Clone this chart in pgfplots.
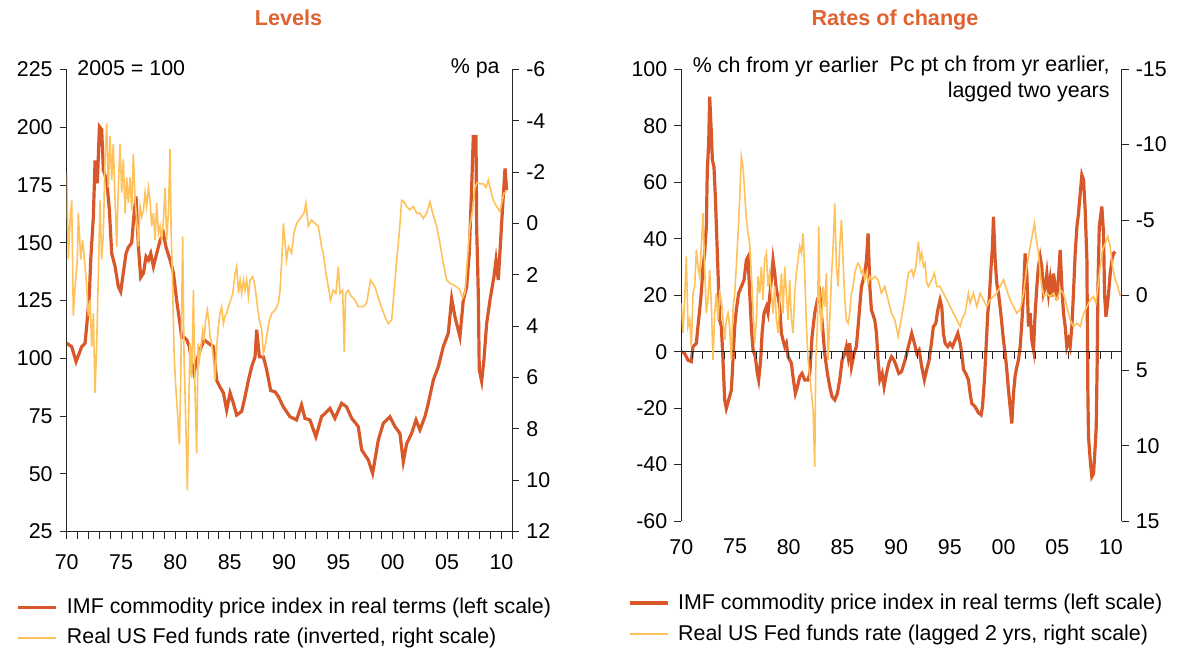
\documentclass[border=0pt]{standalone}
\usepackage{fontspec}
\setmainfont{Liberation Sans}
\usepackage{pgfplots}
\usepackage{pgfplotstable}
\pgfplotsset{compat=1.18}
\definecolor{cdark}{RGB}{216,88,42}
\definecolor{clight}{RGB}{255,193,90}
\definecolor{ctitle}{RGB}{224,98,48}

% Levels: IMF commodity price index in real terms (2005=100)
\pgfplotstableread{
x y
1970.00 106.5
1970.46 105
1970.86 98.5
1971.38 105
1971.69 106.5
1971.84 114
1972.09 128
1972.21 142.5
1972.45 161
1972.61 185.6
1972.82 175.7
1973.01 200.3
1973.22 199
1973.37 181.5
1973.68 177
1973.93 164
1974.14 145.4
1974.45 139.7
1974.75 131
1974.97 128.8
1975.21 137
1975.46 145.4
1975.67 148
1975.98 150
1976.20 162.7
1976.38 170
1976.60 148
1976.81 135
1977.06 136.8
1977.30 144
1977.52 142.5
1977.73 145.4
1977.98 139.7
1978.28 145.4
1978.59 151
1978.90 154
1979.14 148
1979.51 142.5
1979.82 137
1980.12 125
1980.37 116.6
1980.58 109
1980.80 109
1981.04 108
1981.29 105
1981.50 98
1981.72 93.5
1981.96 99
1982.27 103.5
1982.64 108
1983.04 106.5
1983.50 105
1983.80 90.5
1984.05 88
1984.42 85
1984.72 77.6
1985.03 85
1985.34 80.5
1985.64 75.4
1986.10 77
1986.41 83.4
1986.72 90.5
1987.02 96.3
1987.33 100.6
1987.48 112.3
1987.73 100.6
1988.10 100.6
1988.40 95
1988.77 86
1989.17 85.5
1989.48 83.4
1989.93 79
1990.54 74.7
1991.15 73.3
1991.61 79.8
1991.92 74
1992.38 73.3
1992.93 66
1993.45 74.7
1994.22 78.3
1994.68 74
1995.29 80.5
1995.75 79
1996.22 74
1996.83 70.4
1997.14 60.3
1997.75 56
1998.15 50.2
1998.67 64.6
1999.13 71.8
1999.74 74.7
2000.20 70.4
2000.66 67.5
2000.97 55.2
2001.28 63
2001.74 67.5
2002.14 73.3
2002.50 69
2002.96 74.7
2003.27 80.5
2003.73 90.5
2004.19 96.3
2004.65 105
2005.11 110.8
2005.42 125.9
2005.72 118
2006.18 109.3
2006.49 125.1
2006.80 130.9
2007.04 145.4
2007.26 174
2007.41 196
2007.66 196
2007.72 157
2007.87 128
2007.96 95
2008.18 90
2008.39 99.4
2008.64 115
2008.94 125
2009.31 135.3
2009.50 142.5
2009.71 133.9
2009.93 151.2
2010.11 165.6
2010.33 182.2
2010.48 172.8
}\levimf

% Levels: real US Fed funds rate (% pa, inverted scale)
\pgfplotstableread{
x y
1970.00 -1.95
1970.15 1.4
1970.31 -0.14
1970.46 -0.9
1970.61 3.6
1970.77 2.46
1970.98 1.4
1971.07 -0.4
1971.29 1.4
1971.47 0.64
1971.69 1.68
1971.84 2.46
1971.99 3.6
1972.15 3.0
1972.30 4.8
1972.45 3.5
1972.61 6.6
1972.76 4.67
1972.91 2.07
1973.07 -0.9
1973.22 1.4
1973.37 0.4
1973.53 -2.5
1973.68 -3.9
1973.83 -1.4
1973.99 -3.4
1974.14 -1.7
1974.29 -3.1
1974.45 -0.9
1974.60 0.9
1974.75 -1.4
1974.91 -3.1
1975.06 -1.2
1975.21 -2.5
1975.37 -0.4
1975.52 -1.8
1975.67 -0.8
1975.83 -1.8
1975.98 -0.5
1976.13 -2.7
1976.29 -0.9
1976.44 -0.14
1976.60 0.9
1976.75 -0.66
1976.90 -0.27
1977.06 -0.5
1977.21 -1.2
1977.36 -0.66
1977.52 -1.4
1977.67 -0.9
1977.82 0.1
1977.98 -0.4
1978.13 0.64
1978.28 -0.8
1978.44 0.4
1978.59 0.1
1978.74 0.64
1978.90 -0.14
1979.05 -1.4
1979.20 0.64
1979.36 -0.4
1979.51 -2.9
1979.60 0.1
1979.75 2.46
1979.88 5.06
1980.00 6.1
1980.18 7.3
1980.37 8.6
1980.49 6.1
1980.67 0.5
1980.80 5.3
1980.92 7.1
1981.10 10.4
1981.23 7.3
1981.35 4.67
1981.50 6.0
1981.66 2.6
1981.81 6.6
1981.96 8.96
1982.09 4.67
1982.21 5.3
1982.33 4.9
1982.52 4.15
1982.64 4.5
1982.79 3.76
1982.94 3.37
1983.07 3.76
1983.19 4.4
1983.34 4.67
1983.50 5.3
1983.65 6.1
1983.80 4.8
1983.96 4.0
1984.11 3.5
1984.26 3.24
1984.42 3.9
1984.57 3.6
1984.72 3.5
1984.88 3.24
1985.09 2.98
1985.28 2.72
1985.49 1.94
1985.64 1.68
1985.80 2.72
1985.95 2.2
1986.10 2.72
1986.26 2.2
1986.41 2.6
1986.56 2.2
1986.72 2.85
1986.87 2.2
1987.12 2.07
1987.33 2.46
1987.55 3.24
1987.73 3.76
1987.94 4.15
1988.10 5.06
1988.25 4.8
1988.40 4.4
1988.65 3.76
1988.87 3.5
1989.17 3.37
1989.48 3.1
1989.63 2.6
1989.79 1.4
1989.94 0.0
1990.09 0.77
1990.23 1.42
1990.40 0.9
1990.69 1.16
1990.91 0.38
1991.15 0.0
1991.40 -0.14
1991.61 -0.27
1991.83 -0.4
1992.01 -0.8
1992.23 0.1
1992.53 -0.14
1992.84 0.0
1993.15 0.1
1993.45 0.9
1993.61 1.16
1993.85 1.94
1994.07 2.46
1994.28 2.98
1994.53 2.6
1994.77 2.72
1994.99 1.68
1995.14 2.72
1995.39 2.6
1995.54 5.0
1995.66 2.72
1995.91 2.6
1996.21 2.85
1996.52 2.98
1996.83 3.24
1997.29 3.24
1997.60 3.1
1997.96 2.2
1998.36 2.46
1998.82 3.1
1999.28 3.63
1999.59 3.9
1999.90 3.76
2000.11 2.72
2000.36 1.42
2000.60 0.38
2000.82 -0.9
2001.03 -0.85
2001.28 -0.66
2001.58 -0.53
2001.89 -0.66
2002.20 -0.4
2002.50 -0.4
2002.81 -0.2
2003.12 -0.4
2003.42 -0.85
2003.67 -0.4
2004.04 0.1
2004.34 0.77
2004.65 1.55
2004.96 2.2
2005.26 2.33
2005.57 2.4
2005.88 2.46
2006.18 2.6
2006.43 2.9
2006.64 2.72
2006.86 1.42
2007.10 0.1
2007.35 -0.53
2007.56 -1.4
2007.78 -1.6
2008.02 -1.55
2008.33 -1.55
2008.58 -1.4
2008.79 -1.7
2009.01 -1.3
2009.25 -0.9
2009.56 -0.66
2009.87 -0.46
2010.02 -0.8
2010.23 -1.18
2010.48 -1.25
}\levfed

% Rates of change: IMF commodity index, % ch from yr earlier
\pgfplotstableread{
x y
1970.00 0
1970.31 -0.6
1970.62 -3
1970.93 -3.5
1971.09 1.8
1971.40 3
1971.55 8.9
1971.71 14.8
1971.86 20.7
1972.02 30
1972.17 34.8
1972.33 44.3
1972.42 64.3
1972.55 73.8
1972.64 90.3
1972.80 77.3
1972.89 67.9
1973.04 65.5
1973.17 54.9
1973.29 41.9
1973.42 27.7
1973.57 11.2
1973.73 8.9
1973.88 -3
1974.04 -17.1
1974.19 -20.1
1974.41 -17.1
1974.66 -13.6
1974.81 -3
1974.97 8.9
1975.12 14.8
1975.34 20.7
1975.59 23
1975.84 25.4
1976.06 32.5
1976.21 33.6
1976.37 20.7
1976.52 8.9
1976.68 0.6
1976.89 -1.8
1977.08 -7.7
1977.20 -10
1977.39 -3
1977.52 6.5
1977.70 13.6
1977.92 15.9
1978.07 13.6
1978.32 23
1978.54 32.5
1978.70 27.7
1978.85 21.8
1979.01 19.5
1979.16 15.9
1979.32 6.5
1979.47 4.1
1979.63 1.8
1979.78 3
1979.94 -1.8
1980.25 -4.1
1980.40 -8.9
1980.62 -14.8
1980.81 -12.4
1981.02 -8.9
1981.24 -7.7
1981.49 -10
1981.80 -10
1981.96 -7.7
1982.17 5.3
1982.42 13.6
1982.67 18.3
1982.89 20.7
1983.04 13.6
1983.20 6.5
1983.35 -0.6
1983.60 -7.7
1983.82 -12.4
1984.04 -16
1984.29 -17.1
1984.53 -14.8
1984.75 -10
1984.97 -3
1985.22 -0.6
1985.37 1.8
1985.53 -1.8
1985.68 3
1985.84 -5.3
1986.09 -0.6
1986.30 1.8
1986.46 8.9
1986.61 15.9
1986.77 23
1986.93 25.4
1987.08 27.7
1987.24 32.5
1987.39 41.9
1987.55 23
1987.70 14.8
1988.01 11.2
1988.17 6.5
1988.32 -3
1988.48 -10
1988.70 -7.7
1988.88 -12.4
1989.10 -7.7
1989.32 -4.1
1989.57 -1.8
1989.81 -3
1990.03 -5.3
1990.25 -7.7
1990.50 -7.1
1990.83 -3
1991.14 1.8
1991.45 6.5
1991.70 3
1991.92 -0.6
1992.14 0.6
1992.38 -5.3
1992.63 -10
1992.85 -6.3
1993.07 -3
1993.32 4.1
1993.47 8.9
1993.69 10
1993.88 14.8
1994.09 18.3
1994.25 15.9
1994.40 6.5
1994.56 3
1994.81 1.8
1995.02 3
1995.24 1.8
1995.49 4.1
1995.74 6.5
1995.96 3
1996.11 -0.6
1996.27 -6.3
1996.48 -7.7
1996.73 -10
1996.89 -14.8
1997.04 -18.3
1997.35 -19.5
1997.66 -21.6
1997.91 -22.4
1998.04 -19.5
1998.22 -10
1998.35 -0.4
1998.53 13.6
1998.66 18.3
1998.84 30.1
1998.97 37.2
1999.06 47.8
1999.22 32.5
1999.37 24.2
1999.53 20.7
1999.68 15.9
1999.84 10
1999.99 4.1
2000.15 -0.6
2000.30 -6.3
2000.46 -13.6
2000.61 -19.5
2000.77 -25.4
2000.93 -14.5
2001.08 -8.6
2001.24 -5.3
2001.39 -3
2001.55 1.8
2001.70 10
2001.86 20.7
2002.01 34.8
2002.17 27.7
2002.32 8.9
2002.48 13.6
2002.63 4.1
2002.79 0.6
2002.94 13.6
2003.10 23
2003.25 30.1
2003.41 33.6
2003.56 30.1
2003.72 20.7
2003.88 23
2004.03 27.7
2004.19 20.7
2004.34 25.4
2004.50 19.5
2004.65 27.7
2004.81 23
2004.96 18.3
2005.12 26.6
2005.27 36
2005.43 23
2005.58 13.6
2005.74 8.9
2005.89 1.8
2006.05 4.1
2006.20 1.8
2006.36 8.9
2006.51 20.7
2006.67 34.8
2006.83 44.3
2006.98 49
2007.14 56.1
2007.29 62.6
2007.45 60.8
2007.60 50.2
2007.76 32.5
2007.85 -14.8
2007.91 -30.1
2008.07 -38.4
2008.22 -44.3
2008.38 -43.2
2008.53 -33.6
2008.63 -26.6
2008.72 -2.7
2008.78 20.9
2008.91 44.3
2009.03 47.8
2009.15 51.4
2009.31 41.9
2009.40 20.7
2009.53 12.4
2009.65 15.9
2009.78 20.7
2009.93 27.7
2010.09 32.5
2010.24 34.8
2010.40 35.4
}\rocimf

% Rates of change: real Fed funds rate, pc pt ch from yr earlier, lagged 2 yrs
\pgfplotstableread{
x y
1970.00 0.53
1970.16 2.5
1970.31 0.31
1970.47 -2.57
1970.62 2.08
1970.78 1.64
1970.93 3.4
1971.09 -0.13
1971.24 -0.58
1971.40 -3.0
1971.55 -1.9
1971.71 -1.24
1971.86 -3.23
1972.02 -5.44
1972.17 -1.9
1972.33 1.2
1972.48 0.31
1972.64 -1.68
1972.80 0.75
1972.95 4.3
1973.11 1.2
1973.26 -0.13
1973.42 1.64
1973.57 -0.13
1973.73 0.31
1973.88 1.64
1974.04 2.96
1974.19 1.64
1974.35 1.2
1974.50 2.08
1974.66 4.3
1974.81 0.97
1974.97 -0.13
1975.12 -1.9
1975.28 -4.1
1975.43 -6.3
1975.59 -9.2
1975.75 -8.5
1975.90 -6.8
1976.06 -5.0
1976.21 -4.1
1976.37 -3.45
1976.52 -1.46
1976.68 0.97
1976.83 3.2
1976.99 1.64
1977.14 -1.24
1977.30 -0.13
1977.45 -1.9
1977.61 0.31
1977.76 -2.35
1977.92 -2.8
1978.07 -0.58
1978.23 -1.46
1978.39 -0.13
1978.54 1.2
1978.70 -0.58
1978.85 1.64
1979.01 2.5
1979.16 0.31
1979.32 -1.46
1979.47 1.2
1979.63 -1.9
1979.78 -0.13
1979.94 1.64
1980.09 -1.02
1980.25 1.64
1980.40 2.5
1980.56 -0.13
1980.71 -1.46
1980.87 -2.35
1981.02 -3.23
1981.18 -2.8
1981.34 -4.1
1981.49 -1.46
1981.65 2.08
1981.80 4.3
1981.96 5.4
1982.11 6.5
1982.27 7.6
1982.42 11.4
1982.52 4.3
1982.67 2.08
1982.80 -4.56
1982.89 0.31
1983.04 2.5
1983.20 -0.58
1983.35 0.75
1983.51 -1.46
1983.66 4.3
1983.82 1.64
1983.98 -1.24
1984.13 -3.23
1984.29 -6.1
1984.44 -1.9
1984.60 -0.58
1984.75 -3.23
1984.91 -5.0
1985.06 -2.35
1985.22 0.31
1985.37 1.64
1985.53 1.86
1985.68 1.2
1985.84 -0.13
1985.99 -0.58
1986.15 -1.46
1986.30 -1.9
1986.46 -2.12
1986.61 -1.9
1986.77 -1.46
1986.93 -1.68
1987.08 -1.02
1987.24 -1.46
1987.39 -0.8
1987.55 -1.24
1987.70 -1.02
1988.01 -1.24
1988.32 -1.02
1988.63 -0.13
1988.94 -0.58
1989.25 0.31
1989.57 1.2
1989.88 1.64
1990.19 2.74
1990.52 1.42
1990.83 0.09
1991.14 -1.46
1991.45 -1.68
1991.61 -1.24
1991.83 -1.9
1992.07 -3.56
1992.23 -2.35
1992.38 -2.8
1992.54 -1.9
1992.70 -2.12
1992.85 -0.8
1993.01 -0.58
1993.32 -1.02
1993.56 -1.46
1993.78 -0.58
1994.09 -0.58
1994.40 -0.13
1994.71 0.31
1995.02 0.75
1995.33 1.2
1995.65 1.64
1995.96 2.08
1996.11 1.64
1996.42 1.2
1996.73 -0.13
1996.89 0.53
1997.20 -0.13
1997.51 0.75
1997.82 -0.13
1998.13 0.31
1998.44 0.75
1998.75 0.31
1999.06 0.09
1999.37 -0.13
1999.68 -0.58
1999.99 -1.02
2000.30 -0.35
2000.61 0.31
2000.93 0.75
2001.24 1.2
2001.55 0.97
2001.86 -0.13
2002.17 -1.9
2002.48 -3.23
2002.70 -4.1
2002.88 -4.78
2003.01 -3.9
2003.25 -2.8
2003.41 -1.46
2003.56 -0.58
2003.78 0.09
2004.03 -0.13
2004.34 0.09
2004.65 -0.13
2004.96 0.31
2005.27 -0.35
2005.58 -0.13
2005.89 0.75
2006.20 1.64
2006.51 2.08
2006.83 1.86
2007.14 2.08
2007.45 1.2
2007.76 0.75
2008.07 0.31
2008.38 0.09
2008.60 0.53
2008.78 -0.58
2009.00 -1.9
2009.22 -3.0
2009.47 -3.45
2009.71 -3.9
2009.93 -3.23
2010.15 -1.9
2010.40 -1.02
2010.65 -0.58
2010.86 0.09
}\rocfed

\pgfplotsset{
  base/.style={
    scale only axis,
    xmin=1970, xmax=2011,
    tick align=outside,
    axis line style={-, black!85},
    every tick/.style={black!85},
    major tick length=3.5pt,
    minor tick length=3.5pt,
    /pgf/number format/assume math mode=true,
    ticklabel style={font=\fontsize{10.7}{12.8}\selectfont},
    legend cell align=left,
    legend image code/.code={\draw[##1] (0pt,0pt) -- (19pt,0pt); \path (22pt,0pt);},
  },
}

\begin{document}
\begin{tikzpicture}[font=\fontsize{10.7}{12.8}\selectfont]
\path[use as bounding box] (0pt,0pt) rectangle (588.5pt,324pt);

% ---------------- Levels ----------------
\begin{axis}[base,
  at={(33.35pt,58.25pt)}, anchor=south west,
  width=222.8pt, height=231pt,
  axis x line*=bottom, axis y line*=left,
  ymin=25, ymax=225, ytick={25,50,...,225},
  xtick={1970,1975,...,2010},
  xticklabels={70,75,80,85,90,95,00,05,10},
  minor xtick={1970,...,2011},
  xticklabel style={yshift=-4.5pt},
  legend style={draw=none, fill=none, at={(-0.112,-0.138)}, anchor=north west,
    inner sep=0pt, outer sep=0pt, row sep=2.8pt,
    nodes={inner sep=1.5pt}},
]
\addplot[cdark, line width=1.6pt] table {\levimf};
\addlegendentry{IMF commodity price index in real terms (left scale)}
\addlegendimage{clight, line width=0.9pt}
\addlegendentry{Real US Fed funds rate (inverted, right scale)}
\end{axis}
\begin{axis}[base,
  at={(33.35pt,58.25pt)}, anchor=south west,
  width=222.8pt, height=231pt,
  axis x line=none, axis y line*=right,
  ymin=-6, ymax=12, y dir=reverse, ytick={-6,-4,...,12},
]
\addplot[clight, line width=0.8pt] table {\levfed};
\end{axis}

% ---------------- Rates of change ----------------
\begin{axis}[base,
  at={(340.65pt,63.45pt)}, anchor=south west,
  width=220.2pt, height=225.9pt,
  axis x line*=bottom, axis y line*=left,
  x axis line style={draw=none},
  xtick style={draw=none},
  ymin=-60, ymax=100, ytick={-60,-40,...,100},
  xtick={1970,1975,...,2010},
  xticklabels={70,75,80,85,90,95,00,05,10},
  xticklabel style={yshift=-2pt},
  legend style={draw=none, fill=none, at={(-0.121,-0.154)}, anchor=north west,
    inner sep=0pt, outer sep=0pt, row sep=3.3pt,
    nodes={inner sep=1.5pt}},
]
\addplot[cdark, line width=1.6pt] table {\rocimf};
\addlegendentry{IMF commodity price index in real terms (left scale)}
\addlegendimage{clight, line width=0.9pt}
\addlegendentry{Real US Fed funds rate (lagged 2 yrs, right scale)}
\draw[black!85] (axis cs:1970,0) -- (axis cs:2011,0);
\pgfplotsinvokeforeach{1970,...,2011}{\draw[black!85] (axis cs:#1,0) -- ++(0pt,-3.5pt);}
\end{axis}
\begin{axis}[base,
  at={(340.65pt,63.45pt)}, anchor=south west,
  width=220.2pt, height=225.9pt,
  axis x line=none, axis y line*=right,
  ymin=-15, ymax=15, y dir=reverse, ytick={-15,-10,...,15},
]
\addplot[clight, line width=0.8pt] table {\rocfed};
\end{axis}

% ---------------- Titles and notes ----------------
\node[font=\fontsize{10.8}{13}\selectfont\bfseries, text=ctitle] at (144.25pt,315pt) {Levels};
\node[font=\fontsize{10.8}{13}\selectfont\bfseries, text=ctitle] at (447.5pt,314pt) {Rates of change};
\node[anchor=west, inner sep=0pt] at (38.5pt,290pt) {2005 = 100};
\node[anchor=east, inner sep=0pt] at (250pt,290pt) {\% pa};
\node[anchor=west, inner sep=0pt] at (346.25pt,290.5pt) {\% ch from yr earlier};
\node[anchor=north east, inner sep=0pt, align=right] at (555pt,296pt) {Pc pt ch from yr earlier,\\ lagged two years};
\end{tikzpicture}
\end{document}
